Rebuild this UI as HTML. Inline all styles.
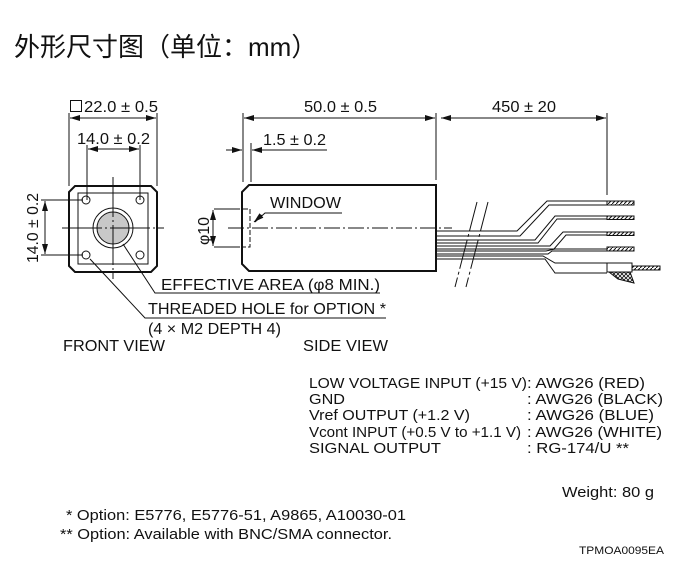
<!DOCTYPE html>
<html><head><meta charset="utf-8"><style>
html,body{margin:0;padding:0;background:#fff;}
svg{display:block;}
text{font-family:"Liberation Sans","Noto Sans CJK SC",sans-serif;fill:#111;}
</style></head><body>
<svg width="674" height="588" viewBox="0 0 674 588" xmlns="http://www.w3.org/2000/svg">
<defs>
<marker id="a" viewBox="0 0 10 6" refX="10" refY="3" markerWidth="10" markerHeight="6" orient="auto-start-reverse" markerUnits="userSpaceOnUse"><path d="M0,0L10,3L0,6z" fill="#111"/></marker>
<pattern id="h" width="4" height="4" patternUnits="userSpaceOnUse"><rect width="4" height="4" fill="#fff"/><path d="M0,4L4,0" stroke="#111" stroke-width="1"/></pattern>
<pattern id="x" width="4" height="4" patternUnits="userSpaceOnUse"><rect width="4" height="4" fill="#fff"/><path d="M0,4L4,0M0,0L4,4" stroke="#111" stroke-width="0.8"/></pattern>
</defs>
<text x="14" y="56" font-size="26" font-family="'Noto Sans CJK SC',sans-serif">外形尺寸图（单位：mm）</text>

<g stroke="#111" fill="none" stroke-width="1">
<rect x="70.5" y="100.5" width="11" height="11"/>
<line x1="69" y1="113" x2="69" y2="186"/><line x1="157" y1="113" x2="157" y2="186"/>
<line x1="70" y1="118" x2="156" y2="118" marker-start="url(#a)" marker-end="url(#a)"/>
<line x1="87" y1="145" x2="87" y2="200"/><line x1="140" y1="145" x2="140" y2="200"/>
<line x1="88" y1="149" x2="139" y2="149" marker-start="url(#a)" marker-end="url(#a)"/>
<line x1="41" y1="200" x2="83" y2="200"/><line x1="41" y1="255" x2="83" y2="255"/>
<line x1="45" y1="201" x2="45" y2="254" marker-start="url(#a)" marker-end="url(#a)"/>
<path d="M75,186H151L157,192V266L151,272H75L69,266V192Z" stroke-width="2"/>
<rect x="78" y="193" width="70" height="71"/>
<circle cx="86" cy="200" r="4"/><circle cx="140" cy="200" r="4"/><circle cx="86" cy="255" r="4"/><circle cx="140" cy="255" r="4"/>
<circle cx="113" cy="228" r="20"/>
<circle cx="113" cy="228" r="16" fill="#c8c8c8"/>
<path d="M62,228H164M113,177V279" stroke-dasharray="40,3,2,3"/>
<polyline points="123,244 155,293 380,293"/>
<polyline points="90,259 145,318 386,318"/>

<line x1="243" y1="113" x2="243" y2="182"/><line x1="436" y1="113" x2="436" y2="180"/>
<line x1="244" y1="118" x2="435" y2="118" marker-start="url(#a)" marker-end="url(#a)"/>
<line x1="607" y1="113" x2="607" y2="195"/>
<line x1="441" y1="118" x2="606" y2="118" marker-start="url(#a)" marker-end="url(#a)"/>
<line x1="251" y1="143" x2="251" y2="182"/>
<line x1="226" y1="150" x2="242" y2="150" marker-end="url(#a)"/>
<line x1="327" y1="150" x2="252" y2="150" marker-end="url(#a)"/>
<line x1="214" y1="209" x2="240" y2="209"/><line x1="214" y1="247" x2="240" y2="247"/>
<line x1="213" y1="210" x2="213" y2="246" marker-start="url(#a)" marker-end="url(#a)"/>
<path d="M249,185H436V271H249L242,264V192Z" stroke-width="2"/>
<path d="M243,209H250V247H243" stroke-dasharray="5,2"/>
<path d="M228,228H452" stroke-dasharray="16,3,2,3"/>
<polyline points="342,213 265,213 255,222" /><line x1="262" y1="215" x2="254" y2="222" marker-end="url(#a)"/>
<path d="M477,202L455,287M488,202L466,287" stroke-dasharray="30,3,3,3"/>
<path d="M436,231H517L547,201H607"/>
<path d="M436,236H520L549,205H607"/>
<path d="M436,240H535L555,216H607"/>
<path d="M436,243H538L557,219H607"/>
<path d="M436,246H550L563,232H607"/>
<path d="M436,249H554L566,235H607"/>
<path d="M436,251H546L555,249H607" />
<path d="M436,254H548L552,251H607" />
<path d="M436,256H543L555,263H607"/>
<path d="M436,259H545L555,273H607"/>
<rect x="607" y="201" width="27" height="4" fill="url(#h)"/>
<rect x="607" y="216" width="27" height="3.5" fill="url(#h)"/>
<rect x="607" y="232" width="27" height="3.5" fill="url(#h)"/>
<rect x="607" y="247" width="27" height="4" fill="url(#h)"/>
<rect x="607" y="263" width="25" height="9"/>
<rect x="632" y="266" width="28" height="4" fill="url(#h)"/>
<path d="M609,272L630,272L634,283L618,279Z" fill="url(#x)"/>
</g>

<g font-size="15.5">
<text x="84" y="112" textLength="74" lengthAdjust="spacingAndGlyphs">22.0 ± 0.5</text>
<text x="77" y="144" textLength="73" lengthAdjust="spacingAndGlyphs">14.0 ± 0.2</text>
<text transform="translate(38,263) rotate(-90)" textLength="70" lengthAdjust="spacingAndGlyphs">14.0 ± 0.2</text>
<text x="304" y="112" textLength="73" lengthAdjust="spacingAndGlyphs">50.0 ± 0.5</text>
<text x="492" y="112" textLength="64" lengthAdjust="spacingAndGlyphs">450 ± 20</text>
<text x="263" y="145" textLength="63" lengthAdjust="spacingAndGlyphs">1.5 ± 0.2</text>
<text transform="translate(209,245) rotate(-90)" textLength="28" lengthAdjust="spacingAndGlyphs">φ10</text>
<text x="270" y="208" textLength="71" lengthAdjust="spacingAndGlyphs">WINDOW</text>
<text x="161" y="290" textLength="219" lengthAdjust="spacingAndGlyphs">EFFECTIVE AREA (φ8 MIN.)</text>
<text x="148" y="314" textLength="238" lengthAdjust="spacingAndGlyphs">THREADED HOLE for OPTION *</text>
<text x="148" y="334" textLength="133" lengthAdjust="spacingAndGlyphs">(4 × M2 DEPTH 4)</text>
<text x="63" y="351" textLength="102" lengthAdjust="spacingAndGlyphs">FRONT VIEW</text>
<text x="303" y="351" textLength="85" lengthAdjust="spacingAndGlyphs">SIDE VIEW</text>
</g>
<g font-size="14.5">
<text x="309" y="388" textLength="218" lengthAdjust="spacingAndGlyphs">LOW VOLTAGE INPUT (+15 V)</text>
<text x="309" y="404" textLength="36" lengthAdjust="spacingAndGlyphs">GND</text>
<text x="309" y="420" textLength="161" lengthAdjust="spacingAndGlyphs">Vref OUTPUT (+1.2 V)</text>
<text x="309" y="437" textLength="212" lengthAdjust="spacingAndGlyphs">Vcont INPUT (+0.5 V to +1.1 V)</text>
<text x="309" y="453" textLength="132" lengthAdjust="spacingAndGlyphs">SIGNAL OUTPUT</text>
<text x="527" y="388" textLength="118" lengthAdjust="spacingAndGlyphs">: AWG26 (RED)</text>
<text x="527" y="404" textLength="136" lengthAdjust="spacingAndGlyphs">: AWG26 (BLACK)</text>
<text x="527" y="420" textLength="127" lengthAdjust="spacingAndGlyphs">: AWG26 (BLUE)</text>
<text x="527" y="437" textLength="135" lengthAdjust="spacingAndGlyphs">: AWG26 (WHITE)</text>
<text x="527" y="453" textLength="102" lengthAdjust="spacingAndGlyphs">: RG-174/U **</text>
<text x="562" y="497" textLength="92" lengthAdjust="spacingAndGlyphs">Weight: 80 g</text>
<text x="66" y="520" textLength="340" lengthAdjust="spacingAndGlyphs">* Option: E5776, E5776-51, A9865, A10030-01</text>
<text x="60" y="539" textLength="332" lengthAdjust="spacingAndGlyphs">** Option: Available with BNC/SMA connector.</text>
</g>
<text x="579" y="554" font-size="11" textLength="85" lengthAdjust="spacingAndGlyphs">TPMOA0095EA</text>
</svg>
</body></html>
